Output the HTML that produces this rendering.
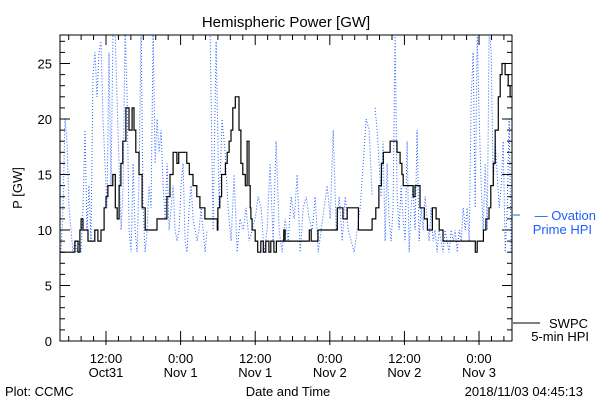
<!DOCTYPE html>
<html><head><meta charset="utf-8"><style>
body{margin:0;background:#fff}
svg{display:block;font-family:"Liberation Sans",sans-serif}
</style></head><body>
<svg id="chart" width="600" height="400" xmlns="http://www.w3.org/2000/svg">
<rect width="600" height="400" fill="#fff"/>
<text x="286" y="27" font-size="15" text-anchor="middle">Hemispheric Power [GW]</text>
<text transform="translate(22,188) rotate(-90)" font-size="13" text-anchor="middle">P [GW]</text>
<g id="axes"></g>
<g id="series"></g>
<text x="288" y="396" font-size="13" text-anchor="middle">Date and Time</text>
<text x="5" y="396" font-size="13">Plot: CCMC</text>
<text x="583" y="396" font-size="13" text-anchor="end">2018/11/03 04:45:13</text>
<line x1="513" y1="215" x2="520" y2="215" stroke="#1f5fff"/>
<text x="596" y="220" font-size="13" fill="#1f5fff" text-anchor="end">— Ovation</text>
<text x="592" y="234" font-size="13" fill="#1f5fff" text-anchor="end">Prime HPI</text>
<line x1="513" y1="323" x2="540" y2="323" stroke="#000"/>
<text x="588" y="328" font-size="13" text-anchor="end">SWPC</text>
<text x="589" y="341" font-size="13" text-anchor="end">5-min HPI</text>
</svg>
<script>
// time in hours since 2018-10-31 00:00
const blackTimes=[4.6,7.0,7.5,7.8,8.0,8.3,9.1,10.2,10.7,11.2,11.7,12.0,12.3,13.1,13.5,13.8,14.1,14.4,14.7,15.2,15.7,16.2,16.5,16.8,17.3,17.8,18.3,20.2,21.8,22.3,22.8,23.4,23.7,25.0,25.4,26.0,26.6,27.1,27.9,29.9,30.0,30.3,30.6,31.2,31.5,31.8,32.1,32.4,32.8,33.4,33.7,34.0,34.4,34.7,35.0,35.2,35.3,35.5,36.0,36.4,36.9,37.3,37.7,38.2,38.5,39.0,39.4,40.6,40.8,44.7,45.0,46.1,49.2,50.1,50.8,52.4,52.6,54.8,55.4,55.9,56.3,56.6,57.7,58.8,59.3,59.6,59.8,61.4,61.7,62.5,63.2,63.7,64.5,65.1,65.6,66.2,71.4,71.7,72.7,73.1,73.6,73.9,74.3,74.6,75.1,75.4,75.7,76.2,76.7,77.0];
const blackValues=[8,9,8,10,11,10,9,10,9,10,12,13,14,15,12,11,14,16,18,21,19,21,19,17,15,12,10,11,13,15,17,16,17,16,15,14,13,12,11,10,12,13,15,16,17,18,19,21,22,19,16,15,14,18,14,12,11,10,9,8,9,8,9,8,9,8,9,10,9,10,9,10,12,11,12,12,10,11,12,14,16,17,18,17,16,15,14,13,14,12,11,10,12,11,10,9,8,9,10,11,12,14,16,19,22,24,25,24,23,22];
const endTime=77.3;
// Ovation Prime: three uniformly sampled segments
const blueSeg1Start=4.76, blueSeg1Step=0.322;
const blueSeg1=[8,12,20,18,12,10,8,9,8,9,8,12,19,10,14,9,24,26,22,26,27,20,16,12,26,14,28,28,22,16,10,14,28,22,10,8,16,10,8,15,28,12,8,10,14,12,28,16,20,17,19,14,11,16,10,12,14,10,9,10,14,16,9,8,12,14,11,10,9,10,12,10,8,10];
const blueSeg2Start=28.74, blueSeg2Step=0.483;
const blueSeg2=[28,10,27,12,20,17,12,9,15,8,11,10,12,9,10,11,13,12,8,10,16,9,18,10,8,11,9,13,11,15,8,12,13,11,10,13,8,10,12,14,11,19,10,13,9,13,10,9,8,10,12,16,20,19,13];
const blueSeg3Start=55.28, blueSeg3Step=0.322;
const blueSeg3=[21,19,16,13,18,9,16,11,9,12,28,13,10,14,11,9,18,8,12,14,10,19,9,12,10,13,11,9,12,9,10,8,10,9,8,10,9,8,10,9,10,8,10,9,12,10,12,9,22,26,12,28,20,14,10,16,10,28,26,14,18,15,12,14,18,8,12,20,8];
const yTicks=[0,5,10,15,20,25];
const xTickTimes=[12,24,36,48,60,72];
const xTickLine1=["12:00","0:00","12:00","0:00","12:00","0:00"];
const xTickLine2=["Oct31","Nov 1","Nov 1","Nov 2","Nov 2","Nov 3"];

const L=60,R=512,T=35,B=341;
const pxH=6.217, t0=4.6;
const X=t=>L+(t-t0)*pxH;
const Y=v=>B-v*11.1;
const NS="http://www.w3.org/2000/svg";
const ax=document.getElementById('axes'), se=document.getElementById('series');
function mk(tag,attrs,parent){const e=document.createElementNS(NS,tag);for(const k in attrs)e.setAttribute(k,attrs[k]);parent.appendChild(e);return e;}

const frame=mk('rect',{x:L,y:T,width:R-L,height:B-T,fill:'none',stroke:'#000'},ax);


for(let v=0;v<=27;v++){
  const y=Y(v), len=(v%5===0)?10:5;
  const a=mk('line',{x1:L,y1:y,x2:L+len,y2:y,stroke:'#000'},ax);
  
  
  const b=mk('line',{x1:R,y1:y,x2:R-len,y2:y,stroke:'#000'},ax);
  
  
}
yTicks.forEach(v=>{
  const t=mk('text',{x:L-8,y:Y(v)+5,'font-size':13,'text-anchor':'end'},ax);
  t.textContent=v;
  
  
});
for(let h=6;h<=endTime;h+=2){
  const x=X(h), major=(h%12===0);
  const a=mk('line',{x1:x,y1:B+(major?4:0),x2:x,y2:B-(major?10:5),stroke:'#000'},ax);
  
  
  const b=mk('line',{x1:x,y1:T,x2:x,y2:T+(major?10:5),stroke:'#000'},ax);
  
  
}
xTickTimes.forEach((h,i)=>{
  const a=mk('text',{x:X(h),y:363,'font-size':13,'text-anchor':'middle'},ax);
  a.textContent=xTickLine1[i];
  
  
  const b=mk('text',{x:X(h),y:377,'font-size':13,'text-anchor':'middle'},ax);
  b.textContent=xTickLine2[i];
  
  
});

mk('clipPath',{id:'clip'},se).appendChild(Object.assign(document.createElementNS(NS,'rect'),{}));
const cr=se.querySelector('clipPath');cr.firstChild.setAttribute('x',L);cr.firstChild.setAttribute('y',T);cr.firstChild.setAttribute('width',R-L);cr.firstChild.setAttribute('height',B-T);

function segPath(start,step,vals){return vals.map((v,i)=>(i?'L':'M')+X(start+i*step).toFixed(1)+','+Y(v).toFixed(1)).join('');}
const bd=segPath(blueSeg1Start,blueSeg1Step,blueSeg1)+segPath(blueSeg2Start,blueSeg2Step,blueSeg2)+segPath(blueSeg3Start,blueSeg3Step,blueSeg3);
const bp=mk('path',{d:bd,fill:'none',stroke:'#1f5fff','stroke-width':1,'stroke-dasharray':'1 2','clip-path':'url(#clip)'},se);



let d='';
blackTimes.forEach((t,i)=>{
  const x=X(t).toFixed(1), y=Y(blackValues[i]).toFixed(1);
  d+= i? 'H'+x+'V'+y : 'M'+x+','+y;
});
d+='H'+X(endTime).toFixed(1);
const kp=mk('path',{d:d,fill:'none',stroke:'#000','stroke-width':1.2,'clip-path':'url(#clip)'},se);


</script>
</body></html>
